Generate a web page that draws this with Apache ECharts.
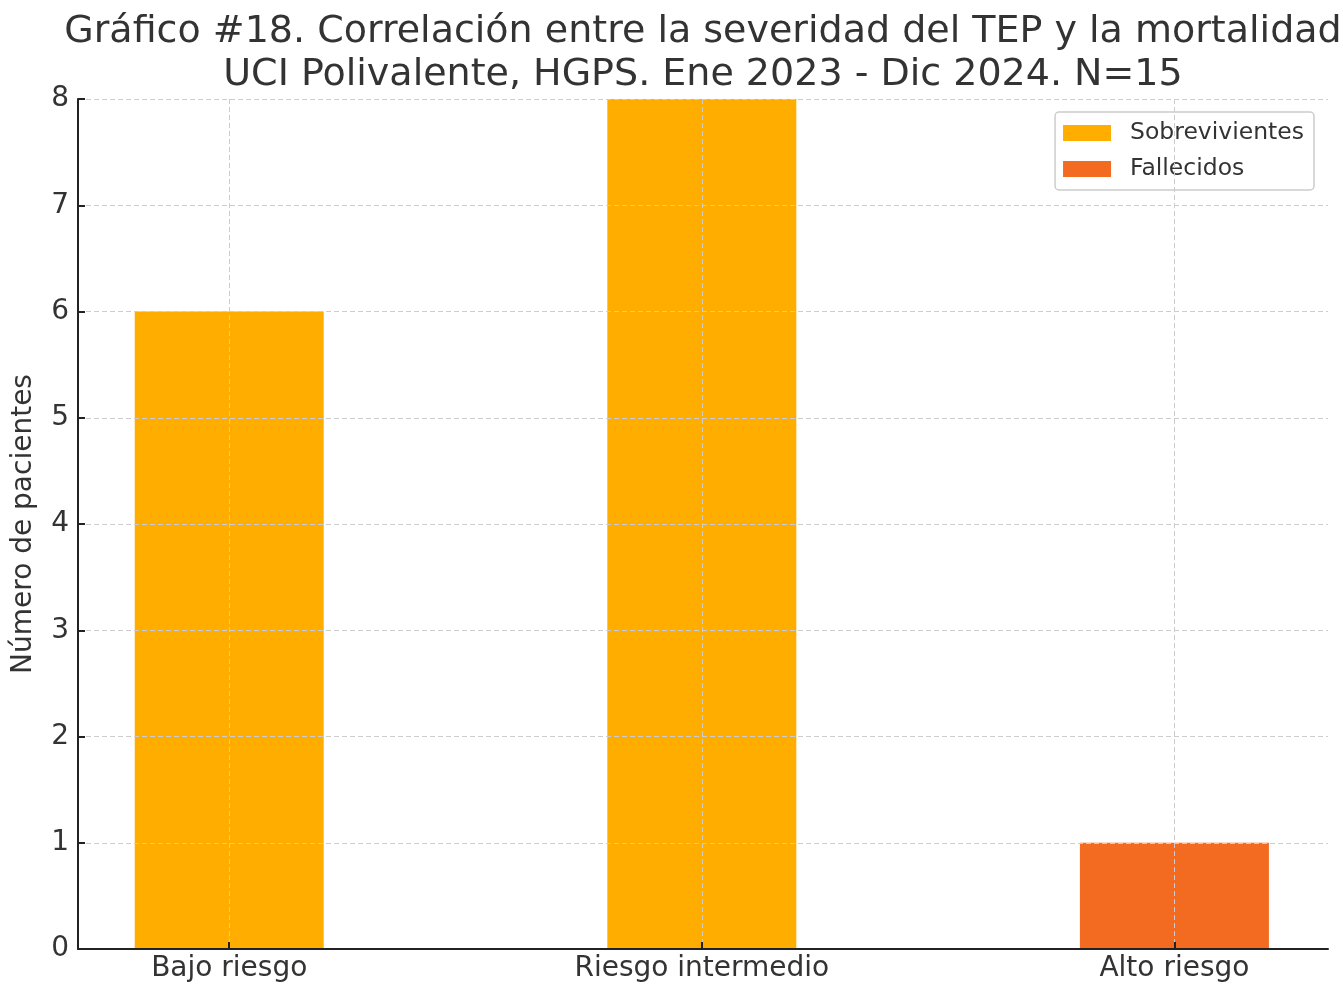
<!DOCTYPE html>
<html>
<head>
<meta charset="utf-8">
<script src="https://cdn.jsdelivr.net/npm/echarts@6/dist/echarts.min.js"></script>
<style>html,body{margin:0;padding:0;background:#fff}#c{width:1343px;height:985px}</style>
</head>
<body>
<div id="c"></div>
<script>
const categories = ['Bajo riesgo', 'Riesgo intermedio', 'Alto riesgo'];
const sobrevivientes = [6, 8, 0];
const fallecidos = [0, 0, 1];
const yTicks = [0, 1, 2, 3, 4, 5, 6, 7, 8];
const titleText = 'Gráfico #18. Correlación entre la severidad del TEP y la mortalidad\nUCI Polivalente, HGPS. Ene 2023 - Dic 2024. N=15';
const yName = 'Número de pacientes';

const FONT = 'DejaVu Sans';
const TXT = '#333333';
const catIdx = categories.map((c, i) => i);
const chart = echarts.init(document.getElementById('c'), null, {renderer: 'canvas'});
chart.setOption({
  backgroundColor: '#ffffff',
  animation: false,
  textStyle: {fontFamily: FONT},
  title: {
    text: titleText,
    left: 698, top: 6, textAlign: 'center',
    textStyle: {fontFamily: FONT, fontSize: 38, fontWeight: 'normal', color: TXT, lineHeight: 43}
  },
  legend: {
    orient: 'vertical',
    right: 29, top: 112,
    padding: [9, 10, 9, 8],
    icon: 'rect',
    itemWidth: 48, itemHeight: 16, itemGap: 12,
    borderColor: '#cccccc', borderWidth: 1.5, borderRadius: 4,
    backgroundColor: 'rgba(255,255,255,0.85)',
    textStyle: {fontFamily: FONT, fontSize: 23.5, color: TXT, padding: [0, 0, 0, 14]},
    data: ['Sobrevivientes', 'Fallecidos']
  },
  grid: {left: 78, right: 15, top: 99, bottom: 36, containLabel: false},
  xAxis: {
    type: 'value',
    min: -0.32, max: 2.325,
    z: 10,
    axisLine: {onZero: false, lineStyle: {color: '#222222', width: 2}},
    axisTick: {show: true, inside: true, length: 7, customValues: catIdx, lineStyle: {color: '#222222', width: 2}},
    axisLabel: {fontFamily: FONT, fontSize: 28, color: TXT, margin: 6, customValues: catIdx,
      formatter: v => categories[Math.round(v)] || ''},
    splitLine: {show: true, lineStyle: {color: '#cccccc', type: [5, 3], width: 1}}
  },
  yAxis: {
    type: 'value',
    min: yTicks[0], max: yTicks[yTicks.length - 1], interval: 1,
    z: 10,
    name: yName,
    nameLocation: 'middle',
    nameGap: 40,
    nameTextStyle: {fontFamily: FONT, fontSize: 28, color: TXT},
    axisLine: {show: true, onZero: false, lineStyle: {color: '#222222', width: 2}},
    axisTick: {show: true, inside: true, length: 7, lineStyle: {color: '#222222', width: 2}},
    axisLabel: {fontFamily: FONT, fontSize: 28, color: TXT, margin: 9},
    splitLine: {show: true, lineStyle: {color: '#cccccc', type: [5, 3], width: 1}}
  },
  series: [
    {name: 'Sobrevivientes', type: 'bar', stack: 'total', data: sobrevivientes.map((v, i) => [i, v]), barWidth: 189, itemStyle: {color: '#FFAE00'}},
    {name: 'Fallecidos', type: 'bar', stack: 'total', data: fallecidos.map((v, i) => [i, v]), barWidth: 189, itemStyle: {color: '#F26B21'}}
  ]
});
</script>
</body>
</html>
